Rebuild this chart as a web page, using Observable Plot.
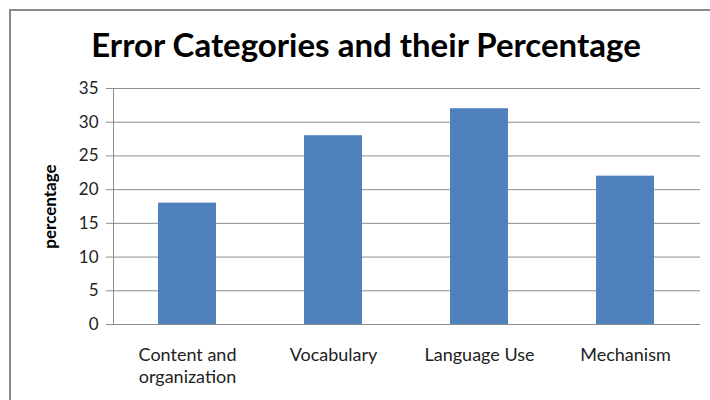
<!DOCTYPE html>
<html><head><meta charset="utf-8">
<script src="https://cdn.jsdelivr.net/npm/d3@7"></script>
<script src="https://cdn.jsdelivr.net/npm/@observablehq/plot@0.6"></script>
<style>
body{margin:0;background:#fff;}
#wrap{position:relative;width:710px;height:400px;overflow:hidden;font-family:Lato,"Open Sans",sans-serif;}
#frame{position:absolute;left:9px;top:9px;width:720px;height:420px;border-left:2px solid #8a8a8a;border-top:2px solid #8a8a8a;box-sizing:border-box;}
#title{position:absolute;left:0;top:24px;width:732px;text-align:center;font-size:33px;line-height:40px;font-weight:700;color:#000;}
#chart{position:absolute;left:0;top:75px;}
</style>
</head><body>
<div id="wrap">
  <div id="frame"></div>
  <div id="title">Error Categories and their Percentage</div>
  <div id="chart"></div>
</div>
<script>
const categories = ["Content and organization", "Vocabulary", "Language Use", "Mechanism"];
const percentages = [18, 28, 32, 22];
const tickLabels = ["Content and\norganization", "Vocabulary", "Language Use", "Mechanism"];
const yTicks = [0, 5, 10, 15, 20, 25, 30, 35];
const yLabel = "percentage";

const data = categories.map((c, i) => ({category: c, value: percentages[i]}));

const chart = Plot.plot({
  width: 710,
  height: 325,
  marginTop: 13,
  marginBottom: 76,
  marginLeft: 113,
  marginRight: 10,
  style: {fontFamily: "Lato, 'Open Sans', sans-serif", color: "#222", background: "transparent"},
  x: {domain: categories, paddingInner: 0.6, paddingOuter: 0.3, label: null},
  y: {domain: [0, 35], label: null},
  marks: [
    Plot.gridY(yTicks, {stroke: "#8c8c8c", strokeOpacity: 1, strokeWidth: 1}),
    Plot.barY(data, {x: "category", y: "value", fill: "#4F81BD"}),
    Plot.frame({anchor: "left", stroke: "#8c8c8c"}),
    Plot.axisY({ticks: yTicks, tickSize: 7, tickPadding: 8, stroke: "#8c8c8c", fontSize: 17, label: null}),
    Plot.text([yLabel], {frameAnchor: "left", textAnchor: "middle", lineAnchor: "middle", rotate: -90, dx: -63, fontWeight: "bold", fontSize: 17, fill: "#000"}),
    Plot.ruleY([0], {stroke: "#8c8c8c"}),
    Plot.axisX({tickSize: 0, tickPadding: 22, fontSize: 18, lineHeight: 1.17, tickFormat: d => tickLabels[categories.indexOf(d)], label: null})
  ]
});
document.getElementById("chart").appendChild(chart);
</script>
</body></html>
